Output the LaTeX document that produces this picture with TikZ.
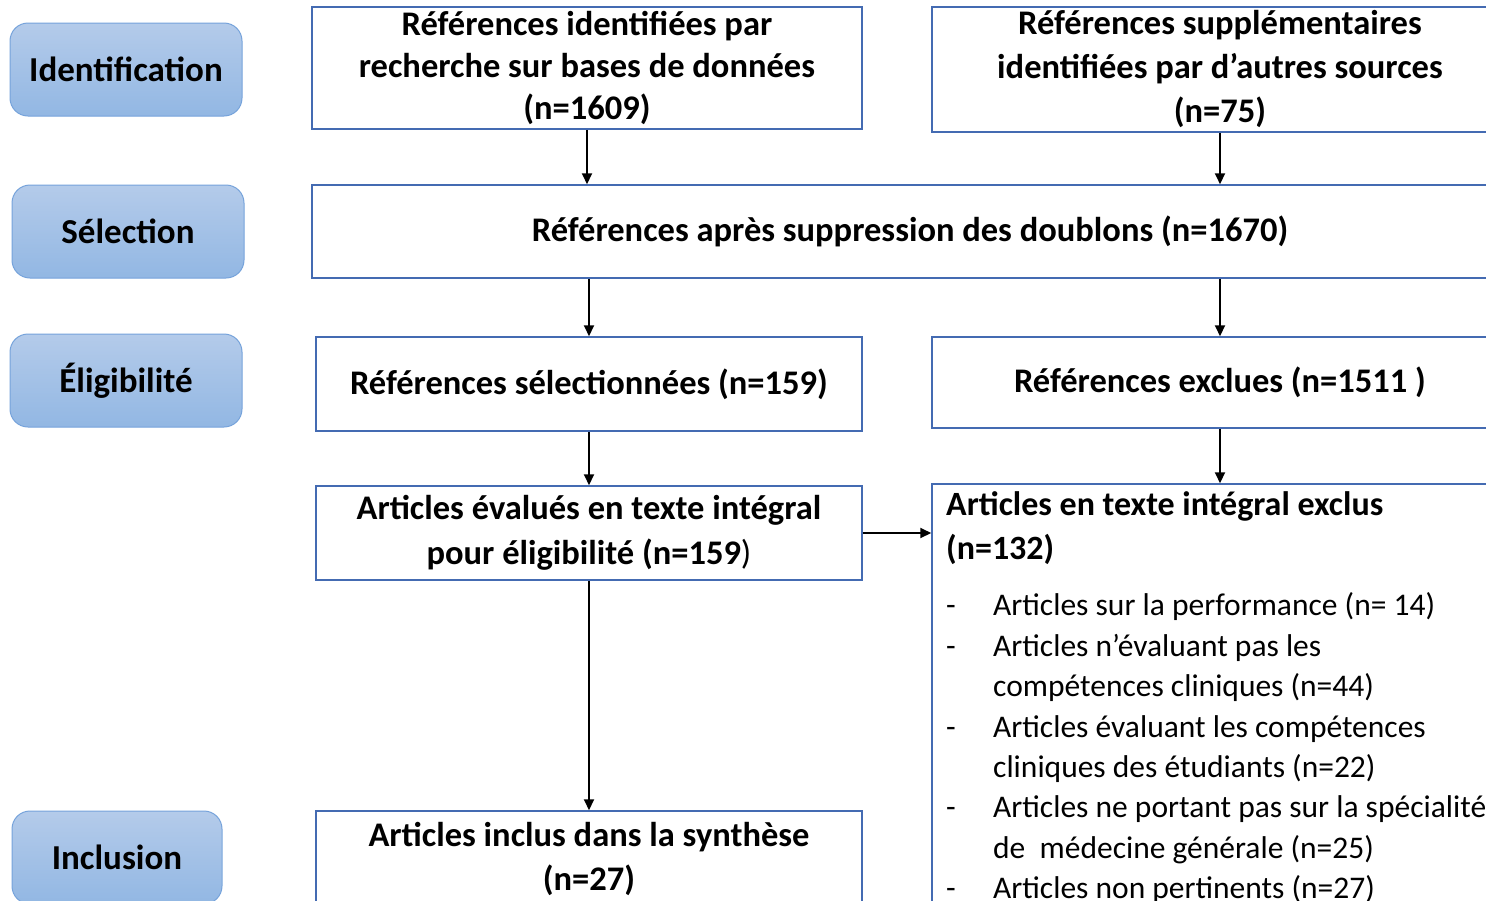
\documentclass[tikz,border=0pt]{standalone}
\usepackage{fontspec}
\setmainfont{Carlito}
\usetikzlibrary{arrows.meta}

\definecolor{boxblue}{RGB}{68,107,178}
\definecolor{stagetop}{RGB}{180,203,234}
\definecolor{stagebot}{RGB}{146,183,227}
\definecolor{stageline}{RGB}{118,163,219}

\tikzset{
  stage/.style={rounded corners=18pt, draw=stageline, line width=1pt,
    top color=stagetop, bottom color=stagebot, inner sep=0pt,
    font=\fontsize{35}{40}\selectfont\bfseries},
  flowbox/.style={draw=boxblue, line width=1.5pt, fill=white, align=center,
    inner sep=0pt, font=\fontsize{34.5}{42}\selectfont\bfseries},
  flowarrow/.style={line width=2pt, -{Triangle[length=11pt,width=10pt]}},
  headline/.style={anchor=west, inner sep=0pt, text height=.75em, text depth=.2em,
    font=\fontsize{34}{40}\selectfont\bfseries},
  itemline/.style={anchor=west, inner sep=0pt, text height=.75em, text depth=.2em,
    font=\fontsize{31.5}{36}\selectfont}
}

\begin{document}
\begin{tikzpicture}[x=1pt,y=-1pt]
    \useasboundingbox (0,0) rectangle (1486,900);
    \clip (0,0) rectangle (1486,900);
    \fill[white] (0,0) rectangle (1486,900);

    % stages
    \node[stage, minimum width=232pt, minimum height=93pt] (ident) at (126,69.5) {Identification};
    \node[stage, minimum width=232pt, minimum height=93pt] (select) at (128,231.5) {Sélection};
    \node[stage, minimum width=232pt, minimum height=93pt] (elig) at (126,380.5) {Éligibilité};
    \node[stage, minimum width=210pt, minimum height=93pt] (incl) at (117,857.5) {Inclusion};

    % flow boxes
    \node[flowbox, minimum width=550pt, minimum height=122pt] (dbsearch) at (587,68)
        {Références identifiées par\\recherche sur bases de données\\(n=1609)};
    \node[flowbox, minimum width=576pt, minimum height=125pt,
          font=\fontsize{34.5}{44}\selectfont\bfseries] (othersrc) at (1220,69.5)
        {Références supplémentaires\\identifiées par d’autres sources\\(n=75)};
    \node[flowbox, minimum width=1196pt, minimum height=93pt] (dedup) at (910,231.5)
        {Références après suppression des doublons (n=1670)};
    \node[flowbox, minimum width=546pt, minimum height=94pt] (screened) at (589,384)
        {Références sélectionnées (n=159)};
    \node[flowbox, minimum width=576pt, minimum height=91pt] (excluded) at (1220,382.5)
        {Références exclues (n=1511 )};
    \node[flowbox, minimum width=546pt, minimum height=94pt,
          font=\fontsize{34.5}{45}\selectfont\bfseries] (fulltext) at (589,533)
        {Articles évalués en texte intégral\\pour éligibilité (n=159\textmd{)}};
    \node[flowbox, minimum width=576pt, minimum height=456pt] (ftexcl) at (1220,712) {};
    \node[flowbox, minimum width=546pt, minimum height=96pt,
          font=\fontsize{34.5}{44}\selectfont\bfseries] (included) at (589,859)
        {Articles inclus dans la synthèse\\(n=27)};

    % text of the full-text exclusions
    \node[headline] (exhead) at (946,513) {Articles en texte intégral exclus};
    \node[headline] (exnum) at (946,557) {(n=132)};
    \node[itemline] (dashA) at (946,613) {-};
    \node[itemline] (dashB) at (946,654) {-};
    \node[itemline] (dashC) at (946,735) {-};
    \node[itemline] (dashD) at (946,815) {-};
    \node[itemline] (dashE) at (946,896) {-};
    \node[itemline] (lineA) at (993,613) {Articles sur la performance (n= 14)};
    \node[itemline] (lineB) at (993,654) {Articles n’évaluant pas les};
    \node[itemline] (lineBb) at (993,694) {compétences cliniques (n=44)};
    \node[itemline] (lineC) at (993,735) {Articles évaluant les compétences};
    \node[itemline] (lineCb) at (993,775) {cliniques des étudiants (n=22)};
    \node[itemline] (lineD) at (993,815) {Articles ne portant pas sur la spécialité};
    \node[itemline] (lineDb) at (993,856) {de~ médecine générale (n=25)};
    \node[itemline] (lineE) at (993,896) {Articles non pertinents (n=27)};

    % connectors
    \draw[flowarrow] (dbsearch.south) -- (dbsearch.south |- dedup.north);
    \draw[flowarrow] (othersrc.south) -- (othersrc.south |- dedup.north);
    \draw[flowarrow] (screened.north |- dedup.south) -- (screened.north);
    \draw[flowarrow] (excluded.north |- dedup.south) -- (excluded.north);
    \draw[flowarrow] (screened.south) -- (fulltext.north);
    \draw[flowarrow] (excluded.south) -- (ftexcl.north);
    \draw[flowarrow] (fulltext.east) -- (fulltext.east -| ftexcl.west);
    \draw[flowarrow] (fulltext.south) -- (included.north);
\end{tikzpicture}
\end{document}
